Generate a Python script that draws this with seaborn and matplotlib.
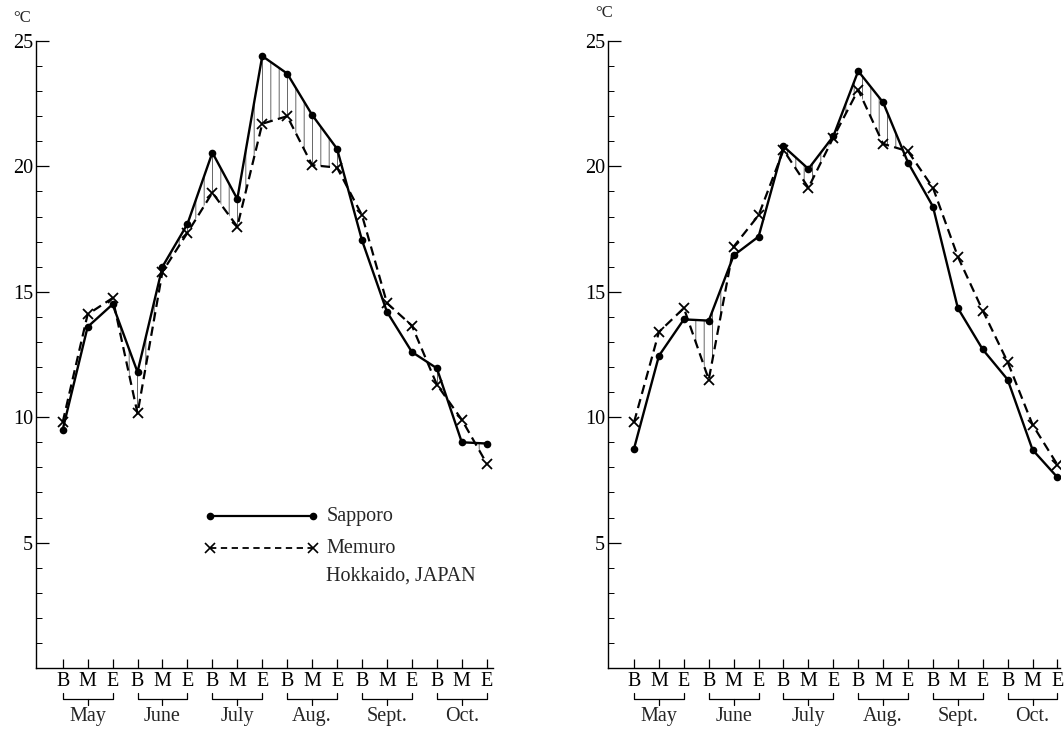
import numpy as np
import pandas as pd
import matplotlib
matplotlib.use("Agg")
import matplotlib.pyplot as plt
from matplotlib.ticker import MultipleLocator
import seaborn as sns

# ---- data ----
months = ["May", "June", "July", "Aug.", "Sept.", "Oct."]
periods = ["B", "M", "E"]
series_names = ["Sapporo", "Memuro"]
region_note = "Hokkaido, JAPAN"
unit_label = "°C"
y_ticks = [5, 10, 15, 20, 25]

sapporo_left = [9.5, 13.6, 14.5, 11.8, 16.0, 17.7, 20.55, 18.7, 24.4,
                23.7, 22.05, 20.7, 17.05, 14.2, 12.6, 11.95, 9.0, 8.95]
memuro_left = [9.8, 14.1, 14.75, 10.15, 15.8, 17.35, 18.95, 17.6, 21.7,
               22.0, 20.05, 19.95, 18.05, 14.55, 13.65, 11.3, 9.9, 8.15]
sapporo_right = [8.75, 12.45, 13.9, 13.85, 16.45, 17.2, 20.8, 19.9, 21.2,
                 23.8, 22.55, 20.15, 18.4, 14.35, 12.7, 11.5, 8.7, 7.6]
memuro_right = [9.8, 13.4, 14.35, 11.5, 16.8, 18.05, 20.65, 19.15, 21.15,
                23.05, 20.9, 20.6, 19.15, 16.4, 14.25, 12.2, 9.7, 8.1]

# ---- style ----
sns.set_style("ticks")
plt.rcParams['font.family'] = ['Liberation Serif', 'DejaVu Serif']
plt.rcParams['hatch.linewidth'] = 0.6

FS = 14.5

fig = plt.figure(figsize=(10.64, 7.32), dpi=100)
ax_l = fig.add_axes([0.03383, 0.08743, 0.4295, 0.8566])
ax_r = fig.add_axes([0.5711, 0.08743, 0.4251, 0.8566])

tick_labels = [p for m in months for p in periods]
x = np.arange(len(tick_labels))
dash = (0, (4.2, 2.4))


def draw(ax, s, m, xlim, unit_pos):
    s = np.asarray(s, dtype=float)
    m = np.asarray(m, dtype=float)
    df = pd.DataFrame({"idx": x, series_names[0]: s, series_names[1]: m})
    ax.fill_between(x, s, m, where=s >= m, interpolate=True,
                    facecolor='none', edgecolor='0.3', hatch='||', linewidth=0)
    sns.lineplot(data=df, x="idx", y=series_names[1], ax=ax, color='k',
                 lw=1.6, linestyle=dash, marker='x', markersize=7.5,
                 markeredgewidth=1.3, markeredgecolor='k')
    sns.lineplot(data=df, x="idx", y=series_names[0], ax=ax, color='k',
                 lw=1.7, marker='o', markersize=5.5, markeredgewidth=0,
                 markeredgecolor='k')
    ax.set_xlabel("")
    ax.set_ylabel("")
    ax.set_ylim(0, 25)
    ax.set_xlim(*xlim)
    ax.set_yticks(y_ticks)
    ax.yaxis.set_minor_locator(MultipleLocator(1))
    ax.set_xticks(x, tick_labels)
    sns.despine(ax=ax)
    for sp in ("left", "bottom"):
        ax.spines[sp].set_linewidth(1.0)
        ax.spines[sp].set_color('k')
    ax.tick_params(axis='y', which='major', direction='in', length=9,
                   width=0.9, labelsize=FS, pad=2, colors='k')
    ax.tick_params(axis='y', which='minor', direction='in', length=4,
                   width=0.7, colors='k')
    ax.tick_params(axis='x', which='major', direction='in', length=6.5,
                   width=0.9, labelsize=FS, pad=3, colors='k')
    # month brackets
    trans = ax.get_xaxis_transform()
    y_top, y_br, y_low, y_lab = -0.0399, -0.0494, -0.059, -0.0780
    for i, mon in enumerate(months):
        b, mid, e = x[3 * i], x[3 * i + 1], x[3 * i + 2]
        ax.plot([b, b, e, e], [y_top, y_br, y_br, y_top], transform=trans,
                clip_on=False, color='k', lw=0.9)
        ax.plot([mid, mid], [y_br, y_low], transform=trans, clip_on=False,
                color='k', lw=0.9)
        ax.text(mid, y_lab, mon, transform=trans, ha='center', va='center',
                fontsize=FS)
    ax.text(unit_pos[0], unit_pos[1], unit_label, transform=ax.transAxes,
            ha='center', va='center', fontsize=12)


draw(ax_l, sapporo_left, memuro_left, (-1.07, 17.25), (-0.0295, 1.037))
draw(ax_r, sapporo_right, memuro_right, (-1.06, 17.1), (-0.008, 1.045))

# legend (left panel)
lx0, lx1, tx = 0.381, 0.606, 0.635
ax_l.plot([lx0, lx1], [0.2424, 0.2424], transform=ax_l.transAxes, color='k',
          lw=1.6, marker='o', markersize=5.5, markeredgewidth=0)
ax_l.plot([lx0, lx1], [0.191, 0.191], transform=ax_l.transAxes, color='k',
          lw=1.3, linestyle=(0, (3.5, 2.5)), marker='x', markersize=7,
          markeredgewidth=1.2)
ax_l.text(tx, 0.2424, series_names[0], transform=ax_l.transAxes,
          va='center', ha='left', fontsize=FS)
ax_l.text(tx, 0.191, series_names[1], transform=ax_l.transAxes,
          va='center', ha='left', fontsize=FS)
ax_l.text(tx, 0.147, region_note, transform=ax_l.transAxes,
          va='center', ha='left', fontsize=FS)

fig.savefig("out.png", dpi=100)
